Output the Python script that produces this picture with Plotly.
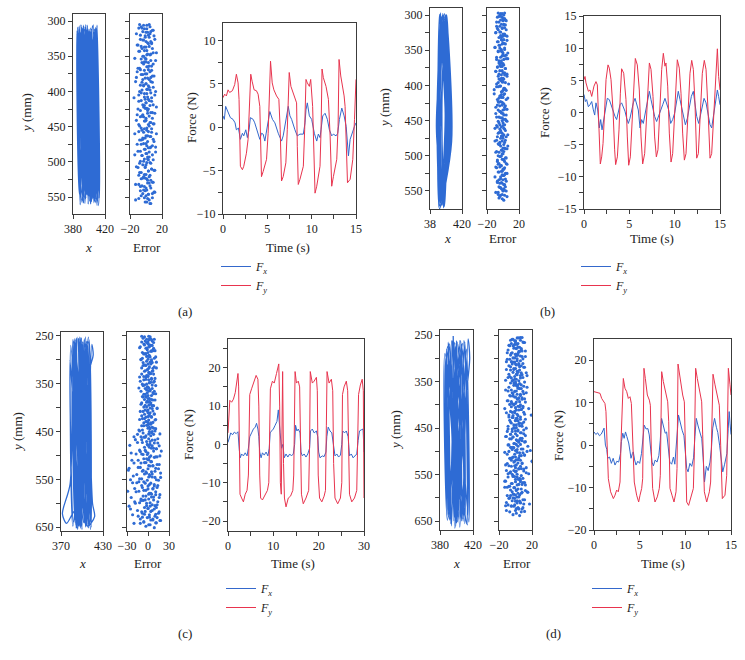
import plotly.graph_objects as go

W, H = 745, 660
BLUE = "#2E6BD4"
FX_BLUE = "#3468CC"
RED = "#E8344E"
FRAME = "#3C3C3C"
FONT = "Liberation Serif"
TXT = "#222222"

# ---------------- data ----------------
# (a) trajectory
traj_a_x = [388,392,395,399,402,405,409,411,405,408,398,401,391,394,385,389,393,397,400,404,407,410,396,400,389,393,386,390,403,407,410,413,399,402,392,396,387,391,404,408,397,400,390,395,401,405,408,412,394,398,388,391,406,409,400,403,393,396,385,388,402,406,396,401,409,412,391,394,398,403]
traj_a_y = [312,555,308,560,315,548,310,552,306,558,313,556,309,550,318,561,307,547,315,553,311,562,305,546,316,558,309,549,312,556,306,551,314,560,310,545,317,557,308,553,313,548,305,559,315,551,309,562,312,547,307,554,316,549,311,557,306,552,314,546,310,558,308,553,315,561,311,549,306,556]
err_a_e = [-3,5,-8,1,9,-5,2,-12,6,-1,4,-7,11,0,-4,7,-10,3,-2,8,-6,1,13,-9,5,-3,2,-14,6,0,-5,9,-2,4,-8,1,7,-11,3,-1,10,-6,2,-4,6,-13,0,8,-3,4,-7,2,12,-5,1,-9,6,-2,3,-15,7,0,-6,9,-3,5,-10,2,-1,8,-4,11,-7,0,4,-12,6,-2,3,-8,9,1,-5,7,-3,13,-9,2,-1,5,-6,10,-4,0,8,-11,3,-2,6,-7,1,12,-5,4,-14,2,-3,9,-8,0,5,-1,7,-10,3,-6,11,-2,4,-9,1,6,-4,8,-13,2,-7,0,5,-3,10,-1,3,-6,8,-2,4,-9,1,6]
err_a_e2 = [1,-6,4,-2,8,-9,0,5,-4,10,-1,3,-7,6,-3,2,-11,7,0,-5,4,-2,9,-8,1,-4,6,-1,12,-6,3,-3,0,7,-10,2,-2,5,-7,1,8,-4,-1,4,-12,6,0,-5,3,9,-3,1,-8,5,-2,11,-6,2,-1,7,-9,0,4,-4,13,-2,3,-7,1,6,-11,2,-3,8,-5,0,5,-1,-9,4,10,-6,1,-2,7,-14,3,0,-4,6,-8,2,9,-3,1,-6,5,-1,12,-10,0,4,-5,2,8,-2,-7,3,6,-4,1,-12,7,-1,3,-8,10,0,-3,5,-6,2,-1,9,-9,4,-2,6,-5,1,11,-7,3,0,-4,8,-13,2,-1,5]
err_a_y = [306,308,305,311,313,310,316,318,315,321,323,320,326,329,327,331,334,332,337,339,336,342,345,343,348,350,347,353,356,354,359,361,358,364,367,365,370,372,369,375,378,376,381,383,380,386,389,387,392,394,391,397,400,398,403,405,402,408,411,409,414,416,413,419,422,420,425,427,424,430,433,431,436,438,435,441,444,442,447,449,446,452,455,453,458,460,457,463,466,464,469,471,468,474,477,475,480,482,479,485,488,486,491,493,490,496,499,497,502,504,501,507,510,508,513,515,512,518,521,519,524,526,523,529,532,530,535,537,534,540,543,541,546,548,545,551,554,552,557,559,556,561]
t_fy_a = [0,0.19,0.38,0.57,0.75,1.06,1.32,1.51,1.70,1.81,1.96,2.19,2.34,2.64,2.83,3.02,3.13,3.28,3.51,3.77,3.96,4.15,4.34,4.53,4.91,5.09,5.36,5.55,5.74,6.04,6.30,6.45,6.60,6.79,7.09,7.25,7.47,7.66,8.00,8.30,8.38,8.49,8.68,9.06,9.21,9.36,9.51,9.74,9.89,10.11,10.38,10.57,10.94,11.06,11.17,11.32,11.62,11.89,12.08,12.26,12.45,12.83,12.98,13.09,13.28,13.66,13.77,13.89,14.04,14.34,14.64,14.83,15.0]
fy_a = [3.4,3.8,3.6,4.3,4.0,4.2,4.9,6.1,5.1,3.2,-4.5,-4.9,-4.5,-3.0,-1.4,2.8,6.1,5.3,4.3,4.2,3.8,2.4,-5.7,-5.1,-3.7,-0.7,7.6,5.1,4.3,3.6,3.2,-0.3,-6.2,-5.7,-4.1,-0.3,6.3,4.7,3.6,2.8,-2.2,-6.6,-6.0,-4.5,-0.3,5.5,5.1,4.7,5.5,2.4,-7.6,-6.8,-4.5,-0.3,6.7,5.7,4.7,3.2,-1.0,-6.8,-5.7,-3.7,0.1,7.8,5.9,3.6,2.4,-3.0,-6.4,-6.0,-3.7,0.9,5.5]
t_fx_a = [0,0.15,0.30,0.57,0.83,1.13,1.36,1.51,1.74,1.96,2.19,2.34,2.57,2.75,2.94,3.09,3.40,3.58,3.85,4.15,4.34,4.53,4.72,4.91,5.09,5.28,5.58,5.85,6.23,6.42,6.60,6.79,6.98,7.17,7.36,7.55,7.74,8.11,8.38,8.68,9.06,9.25,9.36,9.51,9.74,10.00,10.30,10.57,10.75,10.94,11.25,11.51,11.77,12.00,12.26,12.45,12.75,12.94,13.13,13.40,13.66,13.89,14.15,14.34,14.64,14.83,15.0]
fx_a = [1.3,0.9,2.4,1.7,1.1,0.9,0.5,-0.3,-0.1,-1.4,-0.7,-1.0,-0.3,-1.2,-0.3,1.1,0.9,0.5,-0.3,-1.4,-0.7,-0.8,-1.6,-0.3,0.5,1.8,0.9,0.5,-0.7,-1.2,-1.6,-1.0,0.1,1.5,2.4,1.3,0.9,-0.3,-1.0,-0.8,-0.8,0.5,2.0,2.8,1.3,0.9,-0.7,-1.6,-0.8,-1.2,1.3,1.6,0.9,-0.3,-1.0,-0.8,-1.0,-0.7,0.9,2.2,1.3,0.1,-3.3,-1.4,-0.3,0.1,0.5]

# (b)
traj_b_x = [396,403,395,392,398,405,393,389,394,401,397,395,400,407,392,390,397,404,396,393,393,400,398,388,399,406,394,391,395,402,391,394,401,404,395,390,392,399,397,392,398,406,393,389,396,403,395,399,392,401,398,394]
traj_b_y = [300,440,570,450,298,460,572,430,302,470,568,420,299,480,575,440,304,455,566,470,297,430,571,460,301,445,569,480,303,465,573,425,300,490,567,455,299,435,574,445,305,470,570,475,298,450,565,440,302,460,572,430]
err_b_e = [-3,1,-6,-1,2,-5,0,-8,3,-2,-4,1,-7,4,-1,-3,2,-9,0,-5,3,-2,-6,5,-1,-4,1,-10,-2,2,-6,0,-3,4,-8,-1,1,-5,6,-2,-4,0,-7,3,-3,-1,2,-9,-2,5,-5,0,-3,1,-6,7,-1,-4,2,-8,0,-2,3,-11,-3,1,-5,4,-2,-6,0,-1,-4,2,-7,5,-3,0,-9,1,-2,-5,3,-1,-6,0,4,-4,-2,-8,2,-3,1,-5,6,-1,-7,0,-2,3,-4,-10,1,-3,-6,2,-1,5,-5,0,-8,-2,3,-4,1,-7,-1,4,-3,-6,2,0,-9,-2,5,-5,1,-3,-1,3,-7,0,-4,2,-2,-5,1,-3,4,-6,0,-1,-4,2]
err_b_e2 = [-1,-4,2,-7,0,-2,4,-5,-3,1,-8,3,-1,-6,2,-4,0,-9,5,-2,-3,1,-7,-1,3,-5,0,-10,2,-4,-1,6,-6,0,-3,2,-8,-2,4,-5,1,-3,-7,3,-1,-4,0,-9,2,-6,5,-2,-1,-5,3,-8,0,-3,1,-6,4,-1,-11,2,-4,-2,6,-7,0,-3,1,-5,3,-9,-1,2,-4,-6,0,4,-2,-8,1,-3,5,-5,-1,2,-7,0,-4,3,-10,-2,1,-6,4,-3,0,-8,2,-1,-5,6,-4,0,-2,3,-9,-1,1,-6,4,-3,-7,2,0,-5,-2,5,-8,1,-4,-1,3,-6,0,-10,2,-3,4,-5,-1,1,-7,3,-2,-4,0,-9,2,-6,5,-3,-1,1,-5]
err_b_y = [298,300,297,303,305,302,308,310,307,313,316,314,319,321,318,324,327,325,330,332,329,335,338,336,341,343,340,346,349,347,352,354,351,357,360,358,363,365,362,368,371,369,374,376,373,379,382,380,385,387,384,390,393,391,396,398,395,401,404,402,407,409,406,412,415,413,418,420,417,423,426,424,429,431,428,434,437,435,440,442,439,445,448,446,451,453,450,456,459,457,462,464,461,467,470,468,473,475,472,478,481,479,484,486,483,489,492,490,495,497,494,500,503,501,506,508,505,511,514,512,517,519,516,522,525,523,528,530,527,533,536,534,539,541,538,544,547,545,550,552,549,555,558,556,561,563,560,566,569,567,572,574]
t_fy_b = [0,0.11,0.22,0.48,0.66,0.85,1.10,1.32,1.47,1.58,1.69,1.80,1.95,2.10,2.28,2.43,2.65,2.79,2.98,3.20,3.38,3.49,3.68,3.86,4.01,4.15,4.38,4.63,4.78,4.93,5.11,5.33,5.51,5.66,5.88,6.10,6.29,6.47,6.69,6.88,7.06,7.21,7.39,7.61,7.79,7.98,8.16,8.38,8.57,8.75,8.93,9.04,9.23,9.41,9.60,9.78,10.0,10.15,10.29,10.51,10.70,10.88,11.07,11.25,11.47,11.69,11.88,12.06,12.24,12.43,12.61,12.83,13.05,13.27,13.46,13.68,13.90,14.08,14.30,14.49,14.71,14.85,15.0]
fy_b = [5.1,5.6,4.6,3.3,3.5,2.5,4.1,4.8,4.3,-0.6,-5.8,-8.0,-6.9,-4.8,0.4,5.1,7.4,6.9,5.1,0.4,-5.8,-8.1,-6.9,-2.7,3.0,6.8,6.1,2.0,-3.8,-8.2,-6.9,-1.1,5.1,8.4,7.4,3.5,-3.8,-8.0,-6.4,-0.6,5.6,7.7,6.7,2.5,-3.8,-6.9,-5.8,0.4,6.7,9.2,7.2,7.7,4.1,-3.2,-7.7,-6.4,-0.1,5.6,8.2,6.9,3.0,-3.2,-7.4,-6.4,-0.1,6.1,8.1,6.7,1.5,-7.1,-6.4,0.4,6.1,8.1,6.7,0.4,-7.1,-6.4,-0.6,5.6,9.9,5.6,3.5]
t_fx_b = [0,0.15,0.29,0.48,0.66,0.85,1.03,1.18,1.32,1.51,1.69,1.84,1.99,2.21,2.39,2.57,2.79,3.05,3.24,3.42,3.60,3.79,3.97,4.15,4.34,4.52,4.71,4.89,5.07,5.26,5.44,5.63,5.81,5.99,6.18,6.36,6.54,6.76,6.99,7.21,7.39,7.57,7.79,8.01,8.24,8.46,8.68,8.93,9.12,9.34,9.56,9.78,10.0,10.22,10.40,10.59,10.81,11.03,11.18,11.40,11.62,11.84,12.06,12.24,12.43,12.65,12.87,13.09,13.24,13.46,13.68,13.90,14.08,14.26,14.49,14.71,14.85,15.0]
fx_b = [2.8,1.7,2.0,0.9,1.2,1.7,0.4,-0.4,1.5,0.4,-2.4,-1.1,-2.7,-0.6,0.9,2.2,2.0,0.9,-0.1,-0.6,-1.1,-0.1,1.2,1.5,0.9,0.2,-0.9,-1.7,-0.9,0.4,1.5,2.2,1.2,0.4,-2.4,-1.1,-1.7,-0.1,2.0,3.3,2.0,0.9,-0.6,-1.4,-0.6,0.4,1.2,2.2,1.5,0.4,-1.7,-1.1,-0.1,2.0,3.3,2.0,0.7,-1.1,-1.9,-0.9,0.9,2.5,3.3,1.5,-0.6,-1.7,-0.4,1.2,2.2,1.5,-0.1,-1.9,-2.4,-0.6,2.0,3.5,2.5,1.2]

# (c)
traj_c_x = [395,398,388,391,405,409,399,402,384,387,410,412,393,396,401,405,389,392,407,410,397,400,386,390,403,406,414,416,411,398,392,396,401,404,387,383,372,378,390,396,399,394,408,411,390,393,404,407,396,398,383,388,409,413,400,403,391,394,406,415,418,408,397,400,389,392]
traj_c_y = [255,650,262,645,252,652,260,640,270,648,258,655,253,642,265,650,256,638,262,645,252,655,280,640,258,648,268,290,320,652,256,645,262,640,258,560,622,642,615,648,254,650,260,642,265,652,256,645,262,648,300,640,253,650,268,642,258,655,262,600,628,648,255,645,262,652]
err_c_e = [-5,3,-9,1,6,-2,8,-6,0,4,-11,2,-3,7,-1,5,-8,10,-4,1,-6,3,9,-2,-10,5,0,-7,4,12,-3,2,-5,7,-1,-9,6,1,-4,8,-2,3,-12,5,0,-6,9,-3,2,-8,4,11,-1,-5,6,-2,1,-10,7,3,-4,0,8,-7,2,-3,10,-1,5,-9,4,-2,6,-6,1,13,-4,3,-11,0,7,-5,2,9,-3,-8,5,1,-2,11,-6,4,0,-9,6,-1,3,-13,8,2,
           -7,10,-15,4,1,-4,14,-10,6,-2,-18,9,3,-8,16,-5,0,12,-12,5,-3,-24,8,-1,17,-9,2,-6,11,-14,4,0,-20,13,-3,7,-11,1,15,-7,-27,5,-2,10,-16,3,-5,18,-9,6,-1,-13,12,-4,2,-22,9,-8,14,0,-6,7,-17,4,-29,11,-3,1,16,-10,5,-7,-19,8,-2,13,-12,3,-5,10,-25,6,0,-9,15,-4,2,-14,11,-1,7,-8,17,-6,4,-11,1,12,-3,9]
err_c_e2 = [3,-7,1,5,-4,9,-2,0,-9,6,2,-5,8,-1,-12,4,0,7,-6,2,-3,11,-8,1,5,-2,-10,6,0,3,-7,9,-4,1,-1,12,-5,2,7,-9,0,4,-3,10,-6,1,-11,5,2,-2,8,-7,0,6,-4,3,-13,9,-1,1,-6,5,11,-3,0,-8,7,2,-5,4,-10,1,8,-2,-4,6,0,13,-7,3,-1,9,-9,2,5,-5,0,10,-3,-12,4,1,7,-6,2,-2,11,-8,0,6,
            5,-12,8,-3,17,-6,1,-20,10,3,-9,14,-1,-15,6,2,-26,12,-4,8,-11,0,19,-7,4,-17,9,-2,13,-23,5,1,-10,16,-5,3,-14,7,0,-28,11,-3,18,-8,2,-21,6,10,-12,1,15,-6,-25,4,9,-16,0,13,-9,7,-3,-19,11,2,-13,17,-7,5,-24,1,8,-10,14,-4,-18,6,3,-27,12,-2,9,-15,0,16,-8,4,-22,10,-5,13,-11,2,18,-6,7,-20,3,11]
err_c_y = [252,255,251,258,261,257,264,267,263,270,273,269,276,279,275,282,285,281,288,291,287,294,297,293,300,303,299,306,309,305,312,315,311,318,321,317,324,327,323,330,333,329,336,339,335,342,345,341,348,351,347,354,357,353,360,363,359,366,369,365,372,375,371,378,381,377,384,387,383,390,393,389,396,399,395,402,405,401,408,411,407,414,417,413,420,423,419,426,429,425,432,435,431,438,441,437,444,447,443,450,453,449,456,459,455,462,465,461,468,471,467,474,477,473,480,483,479,486,489,485,492,495,491,498,501,497,504,507,503,510,513,509,516,519,515,522,525,521,528,531,527,534,537,533,540,543,539,546,549,545,552,555,551,558,561,557,564,567,563,570,573,569,576,579,575,582,585,581,588,591,587,594,597,593,600,603,599,606,609,605,612,615,611,618,621,617,624,627,623,630,633,629,636,639,635,642,645,641,648,651,647,654,657,653]
t_fy_c = [0.0,0.2,0.4,0.8,1.2,1.6,2.0,2.2,2.35,2.5,2.65,3.0,3.4,3.8,4.2,4.5,4.7,4.8,5.2,5.7,6.2,6.6,6.8,7.0,7.2,7.6,8.2,8.7,9.0,9.2,9.35,9.8,10.2,10.7,11.2,11.4,11.55,11.75,11.9,12.05,12.25,12.45,12.8,13.3,13.8,14.3,14.5,14.7,14.8,15.1,15.5,15.8,16.0,16.2,16.6,17.2,17.8,18.0,18.15,18.6,19.0,19.5,19.7,19.9,20.2,20.7,21.2,21.5,21.7,21.85,22.3,22.8,23.1,23.3,23.6,24.2,24.8,25.1,25.25,25.6,26.1,26.4,26.6,26.8,27.3,27.9,28.4,28.65,28.8,29.2,29.6,29.85,30.0]
fy_c = [3,8,11.5,11,11.8,13.5,17,18.5,15,-5,-13,-14,-15,-13,-12,-8,5,13,14.5,16.5,18,17,10,-8,-14,-14.5,-13,-12,-10,2,14.5,16.5,16,18.5,21,10,-10,-13,0,19,-5,-14,-16.3,-14,-13.5,-12,-8,10,19,16,16.5,15,-5,-13,-15.5,-14,-12,0,19,16,16.5,17.5,14,-8,-14,-15,-13.5,-12,5,19,16,17,14,-5,-14,-15.5,-14,-10,13,15,16.5,14,0,-13,-15,-14,-12,5,13,15.5,17,14,-14]
t_fx_c = [0.0,0.3,0.6,1.0,1.4,1.8,2.2,2.5,2.7,3.0,3.4,3.8,4.2,4.5,4.8,5.2,5.6,6.0,6.3,6.6,6.8,7.0,7.3,7.6,8.0,8.4,8.8,9.1,9.3,9.6,10.0,10.4,10.8,11.1,11.3,11.5,11.8,12.1,12.4,12.8,13.2,13.6,14.0,14.4,14.7,14.9,15.2,15.5,15.9,16.1,16.4,16.8,17.2,17.6,18.0,18.2,18.6,19.0,19.5,19.8,20.0,20.3,20.8,21.2,21.6,21.8,22.1,22.5,22.9,23.3,23.6,24.0,24.4,24.8,25.1,25.3,25.7,26.1,26.5,26.8,27.2,27.6,28.0,28.4,28.7,29.0,29.4,29.8,30.0]
fx_c = [0.5,2,3,2.5,3.2,2.8,3.3,-1.5,-3.5,-2.5,-3.0,-2.2,-3.0,-1,2,3,4,4.5,5.5,4,2,-2,-3.5,-2.2,-2.8,-2,-3.0,-1,3,3.5,4,5,6,9,5,3,-1,0,-3.5,-2.5,-3.3,-2.5,-3.0,-2.5,0,5,3.5,4,3,-2,-3.0,-2.5,-3.3,-2.5,-1,3.5,4,3,3.5,2,-2,-3.5,-3,-3.2,-2,2,4.5,3.5,3,-1,-3,-2.5,-3.3,-2.8,0,3.5,3,3.5,2,-3,-2.5,-3.5,-3,-2.5,1,3.5,3.8,4,-2]

# (d)
traj_d_x = [396,399,390,393,405,408,388,391,401,404,387,390,407,410,394,397,399,402,410,413,386,389,404,407,414,416,409,398,392,387,393,409,412,389,392,398,401,406,409,391,394,400,403,412,415,397,400,390,393,403,406,395,398]
traj_d_y = [252,660,270,655,262,650,280,645,265,663,300,640,268,655,262,650,275,640,265,658,290,648,262,645,258,300,420,665,270,508,640,262,655,275,648,266,652,270,645,268,660,262,648,280,652,265,655,265,645,270,650,262,642]
err_d_e = [2,-4,6,0,9,-6,3,-1,11,-3,5,-8,1,7,-2,4,-10,8,0,3,-5,12,-1,6,-7,2,9,-3,4,-11,1,7,-4,10,0,-6,5,2,-2,13,-8,3,6,-1,8,-5,1,-9,4,11,-3,0,7,-6,2,14,-2,5,-12,3,9,-4,1,6,-7,10,-1,4,-3,8,-9,2,12,0,-5,6,3,-2,9,-13,5,1,-6,7,-1,11,-4,3,-8,19,2,6,-3,0,10,-7,4,1,-5,8,
           -2,5,-9,3,13,-4,7,0,-6,2,10,-3,6,-11,1,8,-5,4,-1,12,-8,3,6,-2,9,-6,0,14,-4,5,-10,2,7,-3,11,-7,1,4,-1,21,-5,8,-12,3,6,0,-8,10,-2,4,-6,13,1,-4,7,-9,2,9,-3,5,-13,0,11,-5,6,2,-7,8,-1,3,-10,12,-4,1,7,-2,15,-6,4,0,-8,9,-3,5,-11,2,10,-1,6,-5,3,-12,8,0,4,-7,1,11,-3,5]
err_d_e2 = [4,-3,8,-1,0,6,-5,2,10,-7,3,-2,7,-9,1,5,-4,12,0,-6,3,8,-3,1,-10,6,2,-1,9,-5,4,-8,0,11,-2,5,-6,3,-11,7,1,-3,14,-7,2,6,-1,9,-4,0,-12,5,3,-2,10,-8,1,7,-5,4,-1,13,-9,2,6,-3,0,8,-6,3,-10,11,1,-4,5,-2,9,-7,0,16,-5,4,-1,7,-11,2,10,-3,6,-8,1,12,-4,3,-6,0,8,-2,5,-9,
            1,7,-4,10,-1,-10,6,3,-6,12,0,-3,8,-12,5,2,-7,11,-2,4,-9,15,1,-5,7,-3,18,-8,2,9,-1,-13,5,0,11,-6,3,-4,20,-2,6,-10,1,8,-5,13,-1,4,-11,7,0,-7,10,2,-3,16,-9,5,-1,6,-12,3,9,-4,0,12,-8,4,-2,7,-13,1,14,-6,3,-3,8,-10,2,5,-1,11,-7,0,6,-4,17,-9,2,-2,9,-5,4,-11,1,7]
err_d_y = [256,259,255,262,265,261,268,270,266,273,276,272,279,282,278,285,288,284,291,293,289,296,299,295,302,305,301,308,311,307,314,316,312,319,322,318,325,328,324,331,334,330,337,339,335,342,345,341,348,351,347,354,357,353,360,362,358,365,368,364,371,374,370,377,380,376,383,385,381,388,391,387,394,397,393,400,403,399,406,408,404,411,414,410,417,420,416,423,426,422,429,431,427,434,437,433,440,443,439,446,449,445,452,454,450,457,460,456,463,466,462,469,472,468,475,477,473,480,483,479,486,489,485,492,495,491,498,500,496,503,506,502,509,512,508,515,518,514,521,523,519,526,529,525,532,535,531,538,541,537,544,546,542,549,552,548,555,558,554,561,564,560,567,569,565,572,575,571,578,581,577,584,587,583,590,592,588,595,598,594,601,604,600,607,610,606,613,615,611,618,621,617,624,627,623,630,633,629,636,638,634,641,644,640,647,650,646,653,656,652,659,663]
t_fy_d = [0,0.29,0.66,0.84,1.02,1.20,1.31,1.46,1.57,1.82,2.12,2.30,2.48,2.66,2.85,2.96,3.07,3.21,3.39,3.58,3.76,3.94,4.09,4.23,4.41,4.67,4.89,5.04,5.22,5.33,5.40,5.47,5.62,5.84,6.06,6.17,6.28,6.42,6.68,6.93,7.15,7.26,7.34,7.41,7.59,7.88,8.07,8.18,8.32,8.54,8.76,8.98,9.09,9.20,9.42,9.71,9.89,10.0,10.15,10.36,10.69,10.88,10.99,11.13,11.31,11.61,11.79,11.90,12.08,12.34,12.63,12.77,12.88,13.03,13.25,13.54,13.72,13.87,14.05,14.34,14.53,14.60,14.71,14.89,15.0]
fy_d = [12.6,12.4,12.2,11.0,10.2,9.8,7.9,0,-7.9,-11.0,-12.6,-11.8,-10.6,-11.0,-8.7,0.8,10.2,15.7,13.4,12.6,11.0,11.4,9.8,2.4,-8.7,-11.8,-13.4,-11.8,-10.2,-7.9,6.3,18.1,15.7,11.8,10.6,9.4,-1.6,-10.2,-13.4,-12.2,-10.2,-7.1,6.3,17.3,15.0,11.8,10.2,5.5,-10.2,-11.8,-13.4,-11.0,-5.5,19.1,15.7,11.8,10.2,2.4,-13.4,-14.2,-11.8,-10.2,-1.6,18.1,15.7,11.8,10.2,2.4,-11.0,-13.4,-11.0,-8.7,6.3,16.7,14.2,11.0,9.4,0,-12.6,-11.8,-7.1,2.4,18.1,14.2,11.8]
t_fx_d = [0,0.2,0.4,0.6,0.8,1.0,1.1,1.25,1.4,1.5,1.7,1.9,2.1,2.3,2.5,2.7,2.9,3.0,3.15,3.3,3.45,3.6,3.8,3.95,4.05,4.2,4.3,4.45,4.6,4.8,5.0,5.2,5.35,5.5,5.7,5.9,6.05,6.2,6.35,6.5,6.7,6.9,7.1,7.25,7.4,7.6,7.8,7.95,8.1,8.3,8.5,8.7,8.85,9.0,9.15,9.25,9.45,9.65,9.85,10.0,10.15,10.3,10.5,10.7,10.9,11.05,11.2,11.4,11.6,11.8,11.95,12.1,12.3,12.5,12.7,12.85,13.0,13.2,13.4,13.55,13.75,13.95,14.1,14.3,14.45,14.55,14.7,14.8,14.9,15.0]
fx_d = [3.1,2.5,2.9,2.2,2.6,3.5,4.0,0,-1.0,-3.1,-2.8,-4.3,-3.1,-4.7,-3.8,-4.0,-2,0.8,2.8,1.6,3.1,2.0,0.5,-1.6,-3.1,-2.0,-1.6,-3.5,-4.7,-3.8,-4.3,-2.0,1,4.7,3.8,3.9,2.4,-1,-4.0,-4.9,-3.5,-4.0,-2.5,1,6.3,4.5,2.8,3.1,0,-4.0,-4.5,-2.8,-4.5,-1,4,7.1,5.0,3.5,2.2,-2,-5.5,-6.3,-4.3,-5.0,-3,2,6.3,4.5,3.0,1.5,-3,-8.7,-5.0,-6.0,-4.0,-1,4,6.3,4.2,3.0,0,-4.5,-6.3,-4.5,-3.3,-2,4,7.9,5,2.5]

# tick values / labels
traj_ab_ticks = [300,325,350,375,400,425,450,475,500,525,550]
traj_ab_labels = ["300","","350","","400","","450","","500","","550"]
traj_cd_ticks = [250,300,350,400,450,500,550,600,650]
traj_cd_labels = ["250","","350","","450","","550","","650"]
f15_x_ticks = [0,2.5,5,7.5,10,12.5,15]
f15_x_labels = ["0","","5","","10","","15"]
f30_x_ticks = [0,5,10,15,20,25,30]
f30_x_labels = ["0","","10","","20","","30"]
fa_y_ticks = [-10,-7.5,-5,-2.5,0,2.5,5,7.5,10]
fa_y_labels = ["\u221210","","\u22125","","0","","5","","10"]
fb_y_ticks = [-15,-12.5,-10,-7.5,-5,-2.5,0,2.5,5,7.5,10,12.5,15]
fb_y_labels = ["\u221215","","\u221210","","\u22125","","0","","5","","10","","15"]
fc_y_ticks = [-20,-15,-10,-5,0,5,10,15,20,25]
fc_y_labels = ["\u221220","","\u221210","","0","","10","","20",""]
fd_y_ticks = [-20,-15,-10,-5,0,5,10,15,20]
fd_y_labels = ["\u221220","","\u221210","","0","","10","","20"]

# ---------------- figure ----------------
fig = go.Figure()
layout = dict(width=W, height=H, autosize=False, margin=dict(l=0, r=0, t=0, b=0, pad=0),
              paper_bgcolor="white", plot_bgcolor="white",
              font=dict(family=FONT, size=12, color=TXT))
counter = [0]


def make_axes(l, r, t, b, xr, yr, xtv, xtt, ytv, ytt, ylabels=True):
    counter[0] += 1
    n = counter[0]
    s = "" if n == 1 else str(n)
    common = dict(showline=True, mirror=True, linecolor=FRAME, linewidth=1,
                  ticks="outside", ticklen=4, tickwidth=1, tickcolor=FRAME,
                  showgrid=False, zeroline=False, fixedrange=True, automargin=False,
                  tickfont=dict(family=FONT, size=12, color=TXT), tickmode="array")
    layout["xaxis" + s] = dict(domain=[l / W, r / W], range=xr, anchor="y" + s,
                               tickvals=xtv, ticktext=xtt, **common)
    layout["yaxis" + s] = dict(domain=[1 - b / H, 1 - t / H], range=yr, anchor="x" + s,
                               tickvals=ytv, ticktext=ytt, showticklabels=ylabels, **common)
    return "x" + s, "y" + s


def pairs(a, b):
    n = min(len(a), len(b))
    return a[:n], b[:n]


def panel(px, py, tr_x, tr_y, tr_xr, tr_xtv, tr_xtt, tr_yr, ytv, ytt,
          err_px, er_e, er_e2, er_y, er_xr, er_xtv, er_xtt,
          f_px, f_py, f_xr, f_yr, fxtv, fxtt, fytv, fytt,
          tfx, fx, tfy, fy, leg):
    # trajectory
    xa, ya = make_axes(px[0], px[1], py[0], py[1], tr_xr, tr_yr, tr_xtv, tr_xtt, ytv, ytt)
    x, y = pairs(tr_x, tr_y)
    fig.add_trace(go.Scatter(x=x, y=y, mode="lines", xaxis=xa, yaxis=ya, showlegend=False,
                             line=dict(color=BLUE, width=1.3, shape="spline", smoothing=0.8),
                             hoverinfo="skip"))
    # error scatter
    xa, ya = make_axes(err_px[0], err_px[1], py[0], py[1], er_xr, tr_yr, er_xtv, er_xtt, ytv, ytt, ylabels=False)
    for ee in (er_e, er_e2):
        e, y = pairs(ee, er_y)
        fig.add_trace(go.Scatter(x=e, y=y, mode="markers", xaxis=xa, yaxis=ya, showlegend=False,
                                 marker=dict(color=BLUE, size=3.1, line=dict(width=0)),
                                 hoverinfo="skip"))
    # force
    xa, ya = make_axes(f_px[0], f_px[1], f_py[0], f_py[1], f_xr, f_yr, fxtv, fxtt, fytv, fytt)
    t1, v1 = pairs(tfx, fx)
    t2, v2 = pairs(tfy, fy)
    fig.add_trace(go.Scatter(x=t1, y=v1, mode="lines", xaxis=xa, yaxis=ya, legend=leg,
                             name="<i>F<sub>x</sub></i>", line=dict(color=FX_BLUE, width=1)))
    fig.add_trace(go.Scatter(x=t2, y=v2, mode="lines", xaxis=xa, yaxis=ya, legend=leg,
                             name="<i>F<sub>y</sub></i>", line=dict(color=RED, width=1)))


# (a)
panel((73, 105), (14, 214), traj_a_x, traj_a_y, [380, 420], [380, 420], ["380", "420"],
      [574, 290], traj_ab_ticks, traj_ab_labels,
      (130, 162), err_a_e, err_a_e2, err_a_y, [-20, 20], [-20, 20], ["\u221220", "20"],
      (223, 356), (23, 214), [0, 15], [-10, 12], f15_x_ticks, f15_x_labels, fa_y_ticks, fa_y_labels,
      t_fx_a, fx_a, t_fy_a, fy_a, "legend")
# (b)
panel((430, 462), (8, 209), traj_b_x, traj_b_y, [380, 420], [380, 420], ["38", "420"],
      [575.6, 290], traj_ab_ticks, traj_ab_labels,
      (487, 519), err_b_e, err_b_e2, err_b_y, [-20, 20], [-20, 20], ["\u221220", "20"],
      (584, 720), (16, 209), [0, 15], [-15, 15], f15_x_ticks, f15_x_labels, fb_y_ticks, fb_y_labels,
      t_fx_b, fx_b, t_fy_b, fy_b, "legend2")
# (c)
panel((61, 103), (332, 531), traj_c_x, traj_c_y, [370, 430], [370, 430], ["370", "430"],
      [658, 242], traj_cd_ticks, traj_cd_labels,
      (127, 169), err_c_e, err_c_e2, err_c_y, [-30, 30], [-30, 0, 30], ["\u221230", "0", "30"],
      (228, 364), (339, 531), [0, 30], [-22.6, 27.5], f30_x_ticks, f30_x_labels, fc_y_ticks, fc_y_labels,
      t_fx_c, fx_c, t_fy_c, fy_c, "legend3")
# (d)
panel((440, 473), (330, 530), traj_d_x, traj_d_y, [380, 420], [380, 420], ["380", "420"],
      [669, 239], traj_cd_ticks, traj_cd_labels,
      (499, 532), err_d_e, err_d_e2, err_d_y, [-20, 20], [-20, 20], ["\u221220", "20"],
      (594, 731), (339, 530), [0, 15], [-20, 25], f15_x_ticks, f15_x_labels, fd_y_ticks, fd_y_labels,
      t_fx_d, fx_d, t_fy_d, fy_d, "legend4")


def legend_at(px, py):
    return dict(x=px / W, y=1 - py / H, xanchor="left", yanchor="top",
                bgcolor="rgba(0,0,0,0)", borderwidth=0, itemwidth=30, tracegroupgap=0,
                font=dict(family=FONT, size=12, color=TXT))


layout["legend"] = legend_at(216, 252)
layout["legend2"] = legend_at(576, 252)
layout["legend3"] = legend_at(221, 574)
layout["legend4"] = legend_at(587, 574)

annotations = []


def ann(text, px, py, angle=0, size=12):
    annotations.append(dict(text=text, x=px / W, y=1 - py / H, xref="paper", yref="paper",
                            showarrow=False, textangle=angle, xanchor="center", yanchor="middle",
                            font=dict(family=FONT, size=size, color=TXT)))


for (yx, yy, xx, xy, ex, ey, tx, ty, fxp, fyp, lx, ly, lab) in [
    (27, 113, 88, 247, 147, 247, 288, 247, 191, 118, 185, 312, "(a)"),
    (385, 108, 447, 239, 503, 239, 652, 239, 545, 113, 547, 312, "(b)"),
    (17, 432, 82, 563, 148, 563, 293, 563, 188, 435, 185, 633, "(c)"),
    (395, 430, 456, 563, 517, 563, 663, 563, 558, 436, 553, 633, "(d)"),
]:
    ann("<i>y</i> (mm)", yx, yy, angle=-90, size=13)
    ann("<i>x</i>", xx, xy, size=13)
    ann("Error", ex, ey, size=13)
    ann("Time (s)", tx, ty, size=13)
    ann("Force (N)", fxp, fyp, angle=-90, size=13)
    ann(lab, lx, ly, size=13)

layout["annotations"] = annotations
fig.update_layout(**layout)
fig.write_html("out.html", config={"displayModeBar": False},
               post_script="document.body.style.margin='0px';document.body.style.overflow='hidden';")
